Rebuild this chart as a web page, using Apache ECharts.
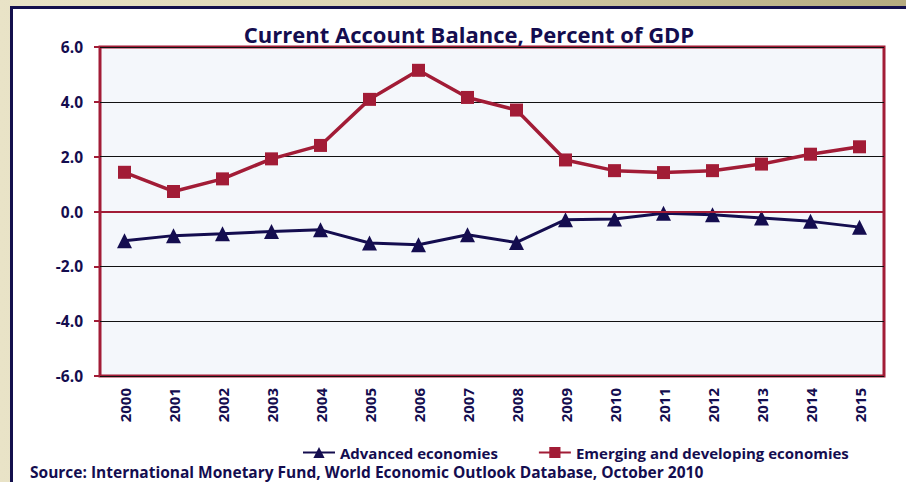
<!DOCTYPE html>
<html>
<head>
<meta charset="utf-8">
<script src="https://cdn.jsdelivr.net/npm/echarts@6/dist/echarts.min.js"></script>
<style>
  html, body { margin: 0; padding: 0; }
  body {
    width: 906px; height: 482px; overflow: hidden; position: relative;
    background: linear-gradient(90deg, #e9e3c7 0%, #ddd5b4 40%, #b5ab80 100%);
  }
  #card {
    position: absolute; left: 10px; top: 6px; width: 920px; height: 500px;
    background: #ffffff; border: 3px solid #14104d;
  }
  #chart { position: absolute; left: 0; top: 0; width: 906px; height: 482px; }
</style>
</head>
<body>
<div id="card"></div>
<div id="chart"></div>
<script>
// Current account balance as % of GDP (IMF WEO, Oct 2010)
const years = ['2000','2001','2002','2003','2004','2005','2006','2007',
               '2008','2009','2010','2011','2012','2013','2014','2015'];
const advanced = [-1.07, -0.88, -0.81, -0.73, -0.67, -1.15, -1.21, -0.85,
                  -1.13, -0.30, -0.27, -0.06, -0.12, -0.24, -0.36, -0.57];
const emerging = [1.43, 0.73, 1.19, 1.92, 2.41, 4.09, 5.15, 4.16,
                  3.70, 1.88, 1.49, 1.42, 1.49, 1.73, 2.09, 2.36];
const yTicks = { min: -6, max: 6, step: 2 };

const NAVY = '#140d4f';
const CRIMSON = '#a21c36';
const FONT = '"Open Sans", Lato, sans-serif';

const chart = echarts.init(document.getElementById('chart'), null, { renderer: 'svg' });
chart.setOption({
  backgroundColor: 'transparent',
  animation: false,
  title: {
    text: 'Current Account Balance, Percent of GDP',
    left: 464, top: 18, textAlign: 'center',
    textStyle: { fontFamily: FONT, fontSize: 22, fontWeight: 'bold', color: NAVY }
  },
  legend: {
    left: 297, top: 440,
    itemWidth: 32, itemHeight: 14, itemGap: 40,
    textStyle: { fontFamily: FONT, fontSize: 15, lineHeight: 15, fontWeight: 'bold', color: NAVY },
    data: ['Advanced economies', 'Emerging and developing economies']
  },
  graphic: [{
    type: 'text', left: 30, top: 464,
    style: {
      text: 'Source: International Monetary Fund, World Economic Outlook Database, October 2010',
      font: 'bold 15.5px ' + FONT, fill: NAVY, lineHeight: 16
    }
  }],
  grid: {
    left: 100, right: 22, top: 47, bottom: 106,
    show: true, backgroundColor: '#f4f7fb',
    borderColor: CRIMSON, borderWidth: 3
  },
  xAxis: {
    type: 'category', data: years, boundaryGap: true,
    axisLine: { show: false }, axisTick: { show: false },
    axisLabel: {
      rotate: 90, margin: 12, fontFamily: FONT, fontSize: 15,
      fontWeight: 'bold', color: NAVY
    },
    splitLine: { show: false }
  },
  yAxis: {
    type: 'value', min: yTicks.min, max: yTicks.max, interval: yTicks.step,
    axisLine: { show: false },
    axisTick: { show: true, length: 6, lineStyle: { color: CRIMSON, width: 2 } },
    axisLabel: {
      margin: 17, fontFamily: FONT, fontSize: 15.5, fontWeight: 'bold', color: NAVY,
      formatter: v => v.toFixed(1)
    },
    splitLine: { show: true, lineStyle: { color: '#111111', width: 1 } }
  },
  series: [
    {
      // zero reference line, kept beneath the data series
      type: 'line', data: [], z: 1, silent: true,
      markLine: {
        silent: true, symbol: 'none', label: { show: false },
        lineStyle: { color: CRIMSON, width: 2, type: 'solid' },
        data: [{ yAxis: 0 }]
      }
    },
    {
      name: 'Advanced economies', type: 'line', data: advanced, z: 3,
      symbol: 'triangle', symbolSize: 15,
      lineStyle: { color: NAVY, width: 3 },
      itemStyle: { color: NAVY }
    },
    {
      name: 'Emerging and developing economies', type: 'line', data: emerging, z: 3,
      symbol: 'rect', symbolSize: 13,
      lineStyle: { color: CRIMSON, width: 3.5 },
      itemStyle: { color: CRIMSON }
    }
  ]
});
</script>
</body>
</html>
